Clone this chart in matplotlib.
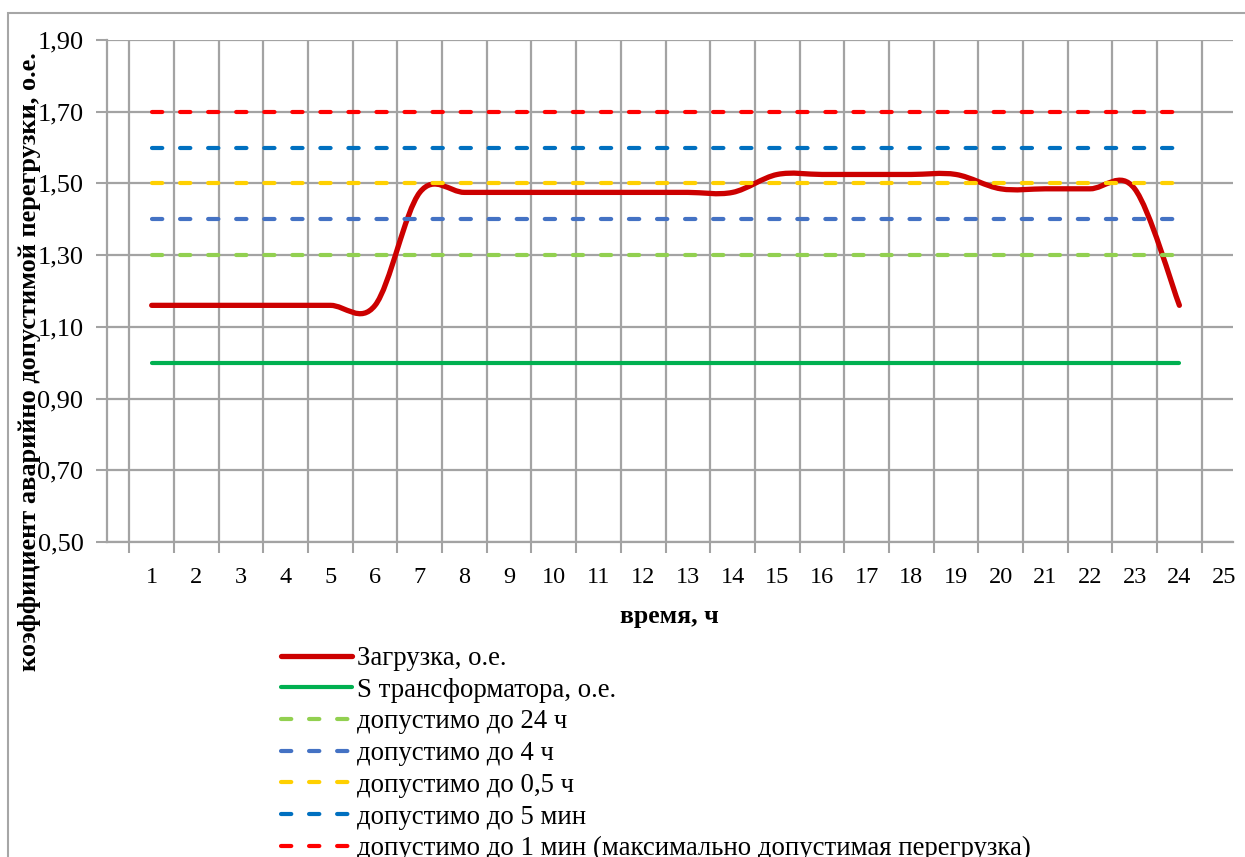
import numpy as np
import matplotlib
matplotlib.use("Agg")
import matplotlib.pyplot as plt
from matplotlib.path import Path
from matplotlib.patches import PathPatch, Rectangle
from matplotlib.ticker import FixedLocator, NullFormatter, FixedFormatter

# ---------------- data ----------------
hours = [1, 2, 3, 4, 5, 6, 7, 8, 9, 10, 11, 12, 13, 14, 15, 16, 17, 18, 19, 20, 21, 22, 23, 24]
load = [1.16, 1.16, 1.16, 1.16, 1.16, 1.16, 1.475, 1.475, 1.475, 1.475, 1.475, 1.475,
        1.475, 1.475, 1.525, 1.525, 1.525, 1.525, 1.525, 1.485, 1.485, 1.485, 1.485, 1.16]
s_trans = [1.00, 1.00, 1.00, 1.00, 1.00, 1.00, 1.00, 1.00, 1.00, 1.00, 1.00, 1.00,
           1.00, 1.00, 1.00, 1.00, 1.00, 1.00, 1.00, 1.00, 1.00, 1.00, 1.00, 1.00]
lim_24h = [1.30, 1.30, 1.30, 1.30, 1.30, 1.30, 1.30, 1.30, 1.30, 1.30, 1.30, 1.30,
           1.30, 1.30, 1.30, 1.30, 1.30, 1.30, 1.30, 1.30, 1.30, 1.30, 1.30, 1.30]
lim_4h = [1.40, 1.40, 1.40, 1.40, 1.40, 1.40, 1.40, 1.40, 1.40, 1.40, 1.40, 1.40,
          1.40, 1.40, 1.40, 1.40, 1.40, 1.40, 1.40, 1.40, 1.40, 1.40, 1.40, 1.40]
lim_05h = [1.50, 1.50, 1.50, 1.50, 1.50, 1.50, 1.50, 1.50, 1.50, 1.50, 1.50, 1.50,
           1.50, 1.50, 1.50, 1.50, 1.50, 1.50, 1.50, 1.50, 1.50, 1.50, 1.50, 1.50]
lim_5min = [1.60, 1.60, 1.60, 1.60, 1.60, 1.60, 1.60, 1.60, 1.60, 1.60, 1.60, 1.60,
            1.60, 1.60, 1.60, 1.60, 1.60, 1.60, 1.60, 1.60, 1.60, 1.60, 1.60, 1.60]
lim_1min = [1.70, 1.70, 1.70, 1.70, 1.70, 1.70, 1.70, 1.70, 1.70, 1.70, 1.70, 1.70,
            1.70, 1.70, 1.70, 1.70, 1.70, 1.70, 1.70, 1.70, 1.70, 1.70, 1.70, 1.70]

x_tick_labels = ['1', '2', '3', '4', '5', '6', '7', '8', '9', '10', '11', '12', '13',
                 '14', '15', '16', '17', '18', '19', '20', '21', '22', '23', '24', '25']
y_ticks = [0.50, 0.70, 0.90, 1.10, 1.30, 1.50, 1.70, 1.90]
y_tick_labels = ['0,50', '0,70', '0,90', '1,10', '1,30', '1,50', '1,70', '1,90']

series_labels = ['Загрузка, о.е.', 'S трансформатора, о.е.', 'допустимо до 24 ч',
                 'допустимо до 4 ч', 'допустимо до 0,5 ч', 'допустимо до 5 мин',
                 'допустимо до 1 мин (максимально допустимая перегрузка)']
x_label = 'время, ч'
y_label = 'коэффициент аварийно допустимой перегрузки, о.е.'

# ---------------- style ----------------
plt.rcParams['font.family'] = ['Liberation Serif', 'DejaVu Serif']
plt.rcParams['lines.scale_dashes'] = False
GRID = '#A3A3A3'
W, H = 1245, 857

fig = plt.figure(figsize=(W / 100, H / 100), dpi=100)
fig.patch.set_facecolor('white')

# outer chart border
fig.add_artist(Rectangle((8 / W, -0.2), 1.5, 1 - 13 / H + 0.2, transform=fig.transFigure,
                         fill=False, edgecolor='#A6A6A6', lw=1.5))

ax = fig.add_axes([107 / W, 1 - 542 / H, (1233 - 107) / W, (542 - 40) / H])
ax.set_xlim(0, 25.2)
ax.set_ylim(0.5, 1.9)

# smooth (Excel-like) curve for the load series
def smooth_path(xs, ys):
    xs = np.asarray(xs, float)
    ys = np.asarray(ys, float)
    n = len(xs)
    verts = [(xs[0], ys[0])]
    codes = [Path.MOVETO]
    for i in range(n - 1):
        i0 = max(i - 1, 0)
        i3 = min(i + 2, n - 1)
        c1 = (xs[i] + (xs[i + 1] - xs[i0]) / 6, ys[i] + (ys[i + 1] - ys[i0]) / 6)
        c2 = (xs[i + 1] - (xs[i3] - xs[i]) / 6, ys[i + 1] - (ys[i3] - ys[i]) / 6)
        verts += [c1, c2, (xs[i + 1], ys[i + 1])]
        codes += [Path.CURVE4] * 3
    return Path(verts, codes)

LOAD_C = '#CC0000'
ax.add_patch(PathPatch(smooth_path(hours, load), fill=False, edgecolor=LOAD_C,
                       lw=3.8, capstyle='round', joinstyle='round', zorder=2))
ax.plot([], [], color=LOAD_C, lw=3.8, solid_capstyle='round', label=series_labels[0])

ax.plot(hours, s_trans, color='#00B050', lw=3.0, solid_capstyle='round',
        label=series_labels[1], zorder=3)

dash = (7.4, 12.8)
for vals, col, lab in [(lim_24h, '#92D050', series_labels[2]),
                       (lim_4h, '#4472C4', series_labels[3]),
                       (lim_05h, '#FFD000', series_labels[4]),
                       (lim_5min, '#0070C0', series_labels[5]),
                       (lim_1min, '#FF0000', series_labels[6])]:
    ax.plot(hours, vals, color=col, lw=3.0, linestyle=(0, dash),
            dash_capstyle='round', label=lab, zorder=3)

# axes / grid
ax.xaxis.set_major_locator(FixedLocator(np.arange(0.5, 25, 1.0)))
ax.xaxis.set_major_formatter(NullFormatter())
ax.xaxis.set_minor_locator(FixedLocator(np.arange(1, 26, 1.0)))
ax.xaxis.set_minor_formatter(FixedFormatter(x_tick_labels))
ax.yaxis.set_major_locator(FixedLocator(y_ticks))
ax.yaxis.set_major_formatter(FixedFormatter(y_tick_labels))

ax.tick_params(axis='x', which='major', length=8, width=1.5, color=GRID, direction='out')
ax.tick_params(axis='x', which='minor', length=0, pad=18, labelsize=17.5, labelcolor='black')
ax.tick_params(axis='y', which='major', length=8, width=1.5, color=GRID, direction='out',
               pad=9, labelsize=19)
ax.grid(True, which='major', color=GRID, lw=1.6, zorder=0)
ax.set_axisbelow(True)
for side in ['top', 'right']:
    ax.spines[side].set_visible(False)
for side in ['left', 'bottom']:
    ax.spines[side].set_color(GRID)
    ax.spines[side].set_linewidth(1.6)

fig.text(669 / W, 1 - 616 / H, x_label, ha='center', va='center', fontsize=18.5,
         fontweight='bold')
fig.text(30 / W, 1 - 362 / H, y_label, ha='center', va='center', rotation=90,
         fontsize=19, fontweight='bold')

handles, labels = ax.get_legend_handles_labels()
fig.legend(handles, labels, loc='upper left', bbox_to_anchor=(281 / W, 1 - 646 / H),
           frameon=False, fontsize=19.3, handlelength=2.65, handletextpad=0.2,
           labelspacing=0.25, borderpad=0, borderaxespad=0)

fig.savefig('out.png', dpi=100)
